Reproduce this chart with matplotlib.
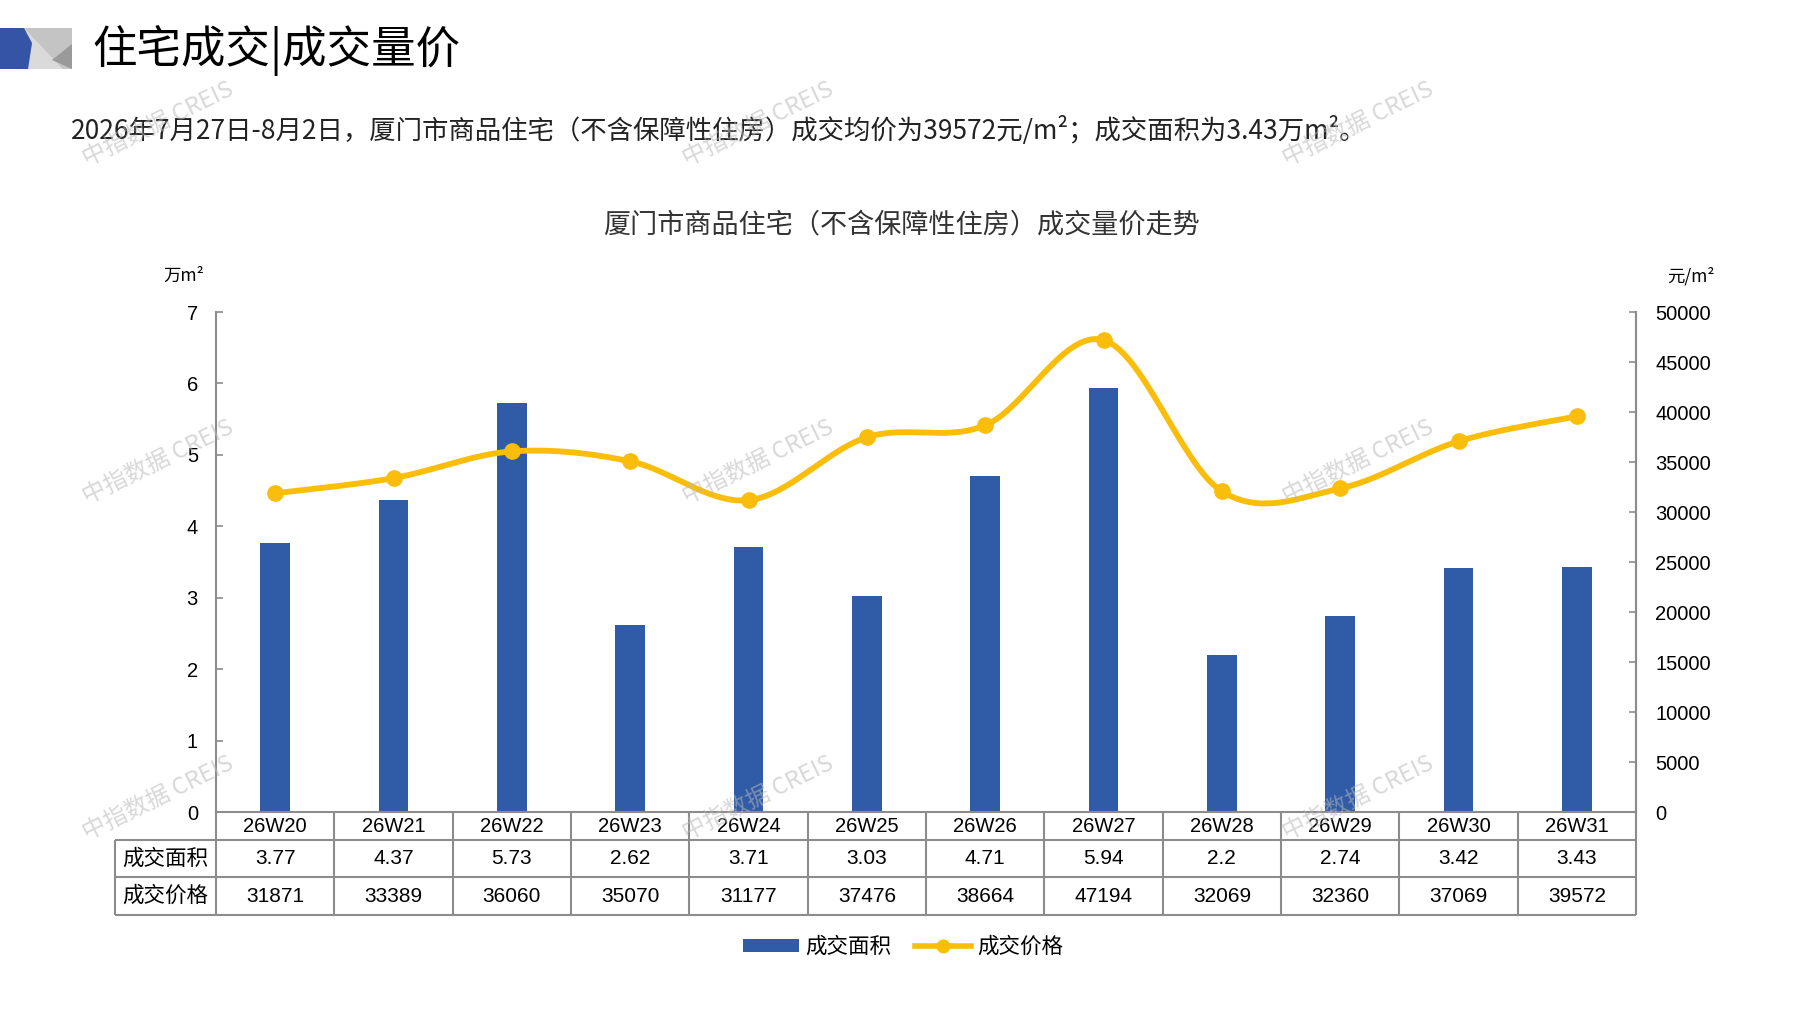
import numpy as np
import matplotlib
matplotlib.use("Agg")
import matplotlib.pyplot as plt
from matplotlib import font_manager
from matplotlib.transforms import blended_transform_factory
from matplotlib.patches import Polygon, Patch
from matplotlib.lines import Line2D

# ---------------- data ----------------
weeks = ["26W20", "26W21", "26W22", "26W23", "26W24", "26W25",
         "26W26", "26W27", "26W28", "26W29", "26W30", "26W31"]
area = [3.77, 4.37, 5.73, 2.62, 3.71, 3.03, 4.71, 5.94, 2.2, 2.74, 3.42, 3.43]
price = [31871, 33389, 36060, 35070, 31177, 37476, 38664, 47194, 32069, 32360, 37069, 39572]
row_labels = ["成交面积", "成交价格"]
left_ticks = [0, 1, 2, 3, 4, 5, 6, 7]
right_ticks = [0, 5000, 10000, 15000, 20000, 25000, 30000, 35000, 40000, 45000, 50000]

page_title = "住宅成交|成交量价"
subtitle = "2026年7月27日-8月2日，厦门市商品住宅（不含保障性住房）成交均价为39572元/m²；成交面积为3.43万m²。"
chart_title = "厦门市商品住宅（不含保障性住房）成交量价走势"
left_unit = "万m²"
right_unit = "元/m²"
watermark = "中指数据 CREIS"

CJK = ["Noto Sans CJK SC", "DejaVu Sans"]
names = {f.name for f in font_manager.fontManager.ttflist}
NUM = ["Liberation Sans", "DejaVu Sans"]
NARROW = ["Liberation Sans Narrow", "Liberation Sans", "DejaVu Sans"] if "Liberation Sans Narrow" in names else NUM

plt.rcParams["font.family"] = CJK

BLUE = "#2F5BA7"
GOLD = "#FABD0A"
GRID = "#8C8C8C"

W, H = 1797, 1010
fig = plt.figure(figsize=(W / 100, H / 100), dpi=100)
fig.patch.set_facecolor("white")

# ---------------- header decoration ----------------
def px(x, y):
    return (x / W, 1 - y / H)

deco = [
    ([(24, 28), (72, 28), (72, 69), (24, 69)], "#C4C4C4"),
    ([(24, 28), (63, 69), (28, 69), (32, 43)], "#DADADA"),
    ([(72, 44), (72, 69), (52, 60)], "#9A9A9A"),
    ([(0, 28), (24, 28), (32, 43), (28, 69), (0, 69)], "#3554A5"),
]
for pts, col in deco:
    fig.patches.append(Polygon([px(*p) for p in pts], closed=True, facecolor=col,
                               edgecolor="none", transform=fig.transFigure))

fig.text(92 / W, 1 - 50 / H, page_title, fontsize=32, va="center", ha="left", family=CJK)
fig.text(71 / W, 1 - 130 / H, subtitle, fontsize=19, va="center", ha="left", family=CJK, color="#222222")
fig.text(0.5017, 1 - 225 / H, chart_title, fontsize=19.5, va="center", ha="center", family=CJK, color="#333333")
fig.text(184 / W, 1 - 276 / H, left_unit, fontsize=12.5, va="center", ha="center", family=CJK)
fig.text(1691 / W, 1 - 276 / H, right_unit, fontsize=12.5, va="center", ha="center", family=CJK)

# ---------------- axes ----------------
ax_l, ax_r, ax_t, ax_b = 216, 1636, 312, 812
ax = fig.add_axes([ax_l / W, 1 - ax_b / H, (ax_r - ax_l) / W, (ax_b - ax_t) / H])
x = np.arange(len(weeks))
ax.bar(x, area, width=0.25, color=BLUE, zorder=2)
ax.set_xlim(-0.5, len(weeks) - 0.5)
ax.set_ylim(0, 7)
ax.set_yticks(left_ticks)
ax.set_xticks([])
ax.spines["top"].set_visible(False)
for s in ["left", "right", "bottom"]:
    ax.spines[s].set_color(GRID)
    ax.spines[s].set_linewidth(1.5)
ax.tick_params(axis="y", direction="in", length=5, width=1.2, color=GRID, labelsize=14.5, pad=13)
for lab in ax.get_yticklabels():
    lab.set_family(NUM)

ax2 = ax.twinx()
ax2.set_ylim(0, 50000)
ax2.set_yticks(right_ticks)
for s in ["top", "left", "bottom"]:
    ax2.spines[s].set_visible(False)
ax2.spines["right"].set_color(GRID)
ax2.spines["right"].set_linewidth(1.5)
ax2.tick_params(axis="y", direction="in", length=5, width=1.2, color=GRID, labelsize=14.5, pad=14)
for lab in ax2.get_yticklabels():
    lab.set_family(NUM)

# smoothed line (Catmull-Rom / Bezier as in spreadsheet smoothing)
def smooth(xs, ys, n=40):
    P = np.column_stack([xs, ys]).astype(float)
    P = np.vstack([P[0], P, P[-1]])
    out = []
    t = np.linspace(0, 1, n)[:, None]
    for i in range(1, len(P) - 2):
        p0, p1, p2, p3 = P[i - 1], P[i], P[i + 1], P[i + 2]
        c1 = p1 + (p2 - p0) / 6
        c2 = p2 - (p3 - p1) / 6
        seg = (1 - t) ** 3 * p1 + 3 * (1 - t) ** 2 * t * c1 + 3 * (1 - t) * t ** 2 * c2 + t ** 3 * p2
        out.append(seg if i == 1 else seg[1:])
    return np.vstack(out)

curve = smooth(x, price)
ax2.plot(curve[:, 0], curve[:, 1], color=GOLD, lw=4.2, solid_capstyle="round", zorder=3)
ax2.plot(x, price, "o", color=GOLD, markersize=11, zorder=4)

# ---------------- data table ----------------
tr = blended_transform_factory(ax.transData, ax.transAxes)
ah = ax_b - ax_t
def ay(ypix):
    return (ax_b - ypix) / ah

y_rows = [ay(812), ay(840), ay(877), ay(915)]
unit = (ax_r - ax_l) / len(weeks)
x_left = -0.5 + (115 - ax_l) / unit
x_right = len(weeks) - 0.5
lkw = dict(color=GRID, lw=1.5, transform=tr, clip_on=False, zorder=1, solid_capstyle="butt")
for yy in y_rows[1:]:
    ax.plot([x_left, x_right], [yy, yy], **lkw)
ax.plot([x_left, x_left], [y_rows[1], y_rows[3]], **lkw)
for b in np.arange(len(weeks) + 1) - 0.5:
    ax.plot([b, b], [y_rows[0], y_rows[3]], **lkw)

mid = [(y_rows[i] + y_rows[i + 1]) / 2 for i in range(3)]
for i, w in enumerate(weeks):
    ax.text(i, mid[0], w, ha="center", va="center", fontsize=14.5, family=NARROW, transform=tr)
    ax.text(i, mid[1], f"{area[i]:g}", ha="center", va="center", fontsize=15, family=NARROW, transform=tr)
    ax.text(i, mid[2], f"{price[i]}", ha="center", va="center", fontsize=15, family=NARROW, transform=tr)
xlab = (x_left + (-0.5)) / 2
ax.text(xlab, mid[1], row_labels[0], ha="center", va="center", fontsize=15.5, family=CJK, transform=tr)
ax.text(xlab, mid[2], row_labels[1], ha="center", va="center", fontsize=15.5, family=CJK, transform=tr)

# ---------------- legend ----------------
handles = [Patch(facecolor=BLUE, edgecolor="none"),
           Line2D([0], [0], color=GOLD, lw=4, marker="o", markersize=9)]
fig.legend(handles, row_labels, loc="center", bbox_to_anchor=(0.5025, 1 - 947 / H),
           ncol=2, frameon=False, handlelength=2.6, handleheight=0.6,
           handletextpad=0.3, columnspacing=1.1, prop={"family": CJK, "size": 15.5})

# ---------------- watermarks ----------------
for wx in (158, 758, 1358):
    for wy in (124, 462, 798):
        fig.text(wx / W, 1 - wy / H, watermark, fontsize=17, rotation=26, ha="center", va="center",
                 color="#B8B8B8", alpha=0.55, family=CJK, zorder=10)

fig.savefig("out.png", dpi=100, facecolor="white")
